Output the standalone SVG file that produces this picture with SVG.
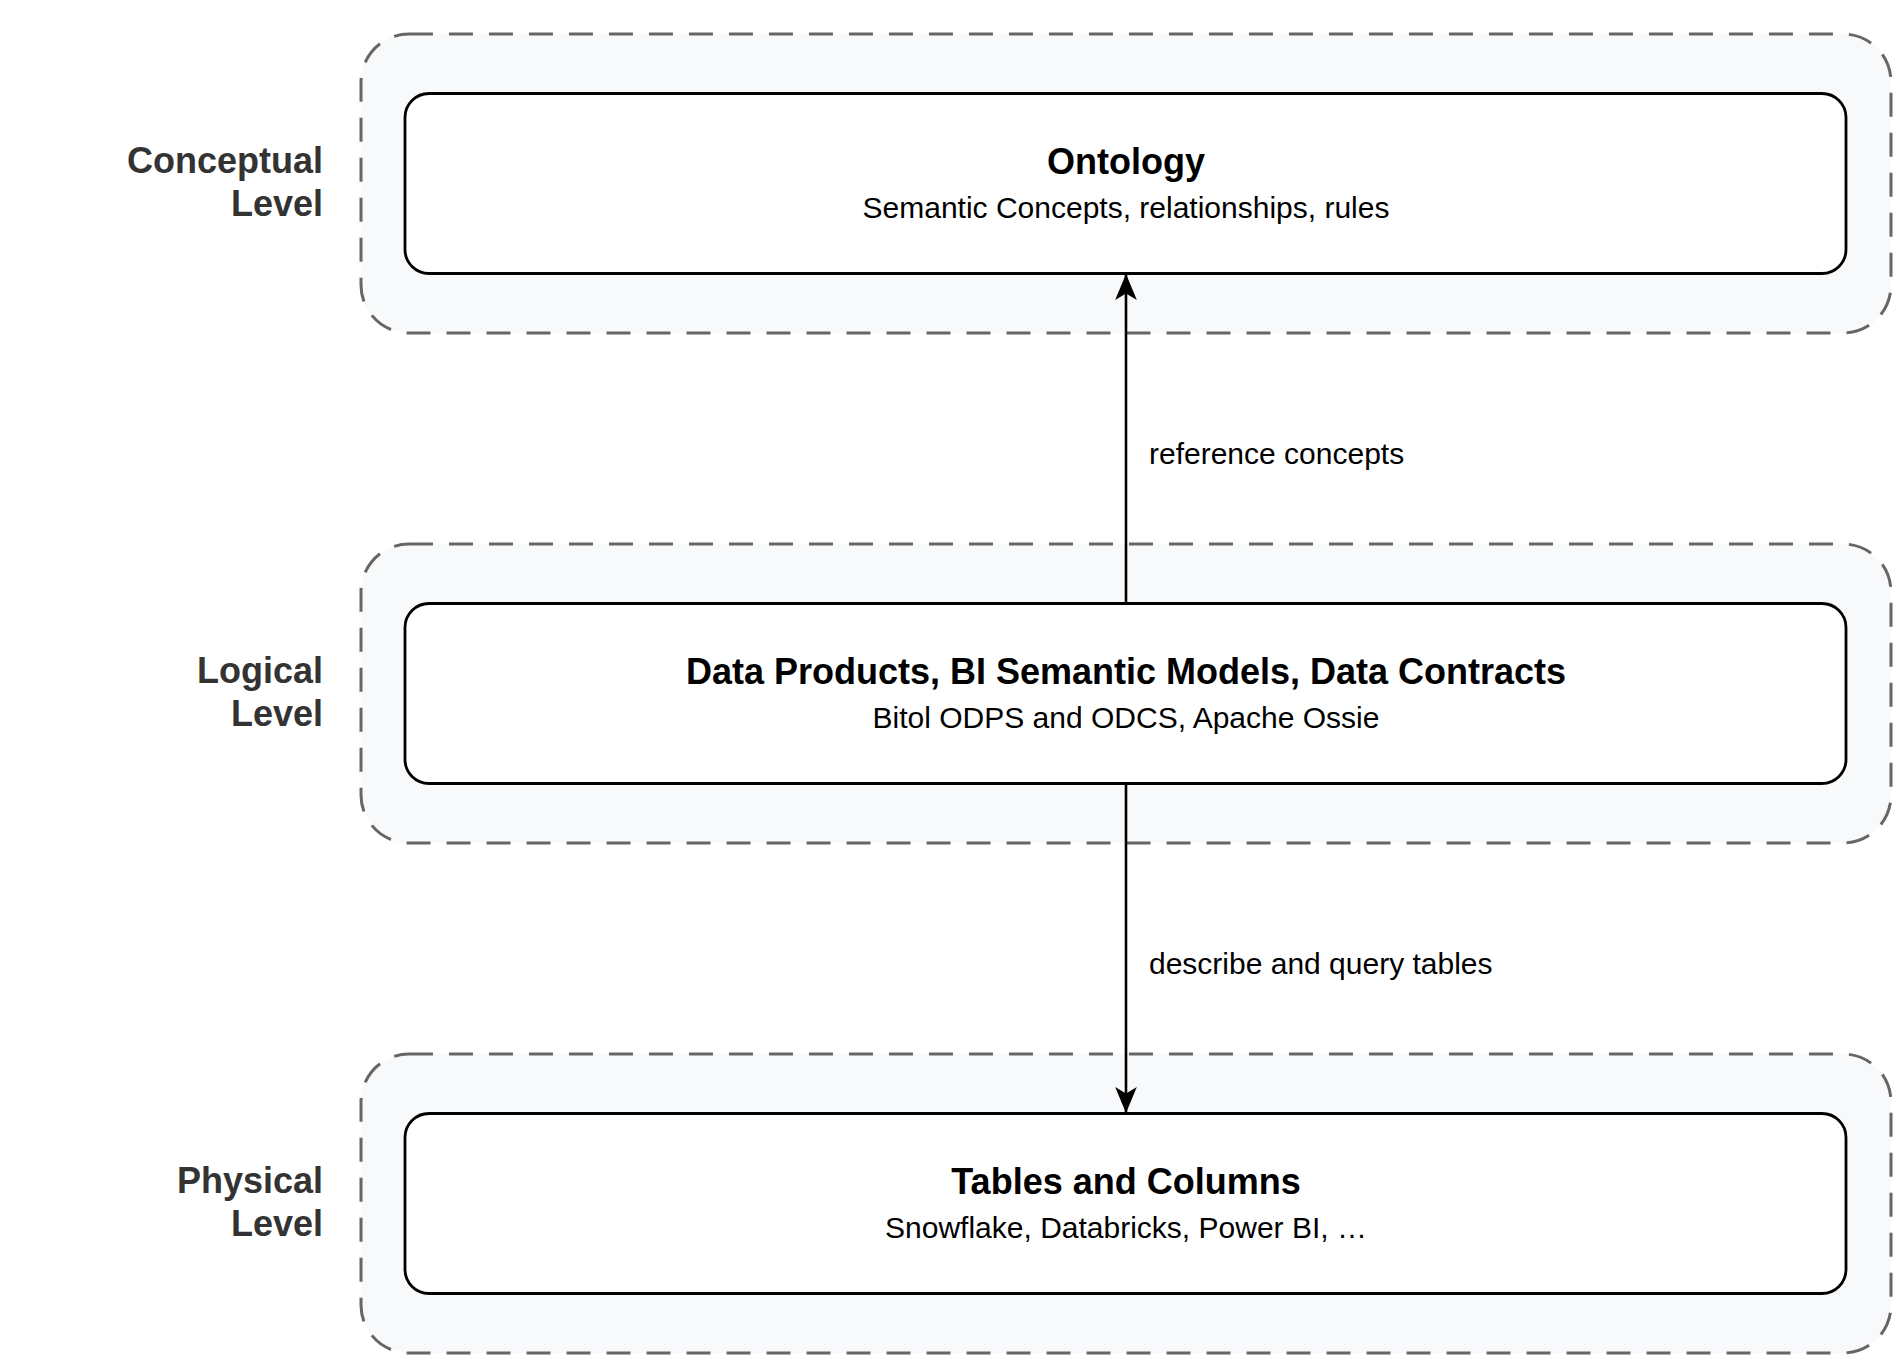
<svg xmlns="http://www.w3.org/2000/svg" width="1904" height="1367" viewBox="0 0 1904 1367">
<style>
.outer{fill:#f8f9fb;stroke:#666;stroke-width:3;stroke-dasharray:24 16}
.inner{fill:#fff;stroke:#000;stroke-width:2.8}
.t{font-family:"Liberation Sans",Arial,sans-serif;font-weight:bold;font-size:36px;text-anchor:middle;fill:#000}
.s{font-family:"Liberation Sans",Arial,sans-serif;font-size:30px;text-anchor:middle;fill:#000}
.lv{font-family:"Liberation Sans",Arial,sans-serif;font-weight:bold;font-size:36px;text-anchor:end;fill:#333}
.el{font-family:"Liberation Sans",Arial,sans-serif;font-size:30px;fill:#000}
.ln{stroke:#000;stroke-width:2.6;fill:none}
</style>
<defs><marker id="a" viewBox="0 0 24 24" refX="23" refY="12" markerWidth="26" markerHeight="26" markerUnits="userSpaceOnUse" orient="auto"><path d="M0,2 L24,12 L0,22 L6,12 z" fill="#000"/></marker></defs>
<g id="conceptual">
<rect class="outer" x="361" y="34" width="1530" height="299" rx="48"/>
<text class="lv" x="323" y="173">Conceptual</text><text class="lv" x="323" y="216">Level</text>
<rect class="inner" x="405" y="93.5" width="1441" height="180" rx="24"/>
<text class="t" x="1126" y="174">Ontology</text>
<text class="s" x="1126" y="218">Semantic Concepts, relationships, rules</text>
</g>
<g id="logical">
<rect class="outer" x="361" y="544" width="1530" height="299" rx="48"/>
<text class="lv" x="323" y="683">Logical</text><text class="lv" x="323" y="726">Level</text>
<rect class="inner" x="405" y="603.5" width="1441" height="180" rx="24"/>
<text class="t" x="1126" y="684">Data Products, BI Semantic Models, Data Contracts</text>
<text class="s" x="1126" y="728">Bitol ODPS and ODCS, Apache Ossie</text>
</g>
<g id="physical">
<rect class="outer" x="361" y="1054" width="1530" height="299" rx="48"/>
<text class="lv" x="323" y="1193">Physical</text><text class="lv" x="323" y="1236">Level</text>
<rect class="inner" x="405" y="1113.5" width="1441" height="180" rx="24"/>
<text class="t" x="1126" y="1194">Tables and Columns</text>
<text class="s" x="1126" y="1238">Snowflake, Databricks, Power BI, …</text>
</g>
<g id="connectors">
<line class="ln" x1="1126" y1="603.5" x2="1126" y2="275" marker-end="url(#a)"/>
<text class="el" x="1149" y="464">reference concepts</text>
<line class="ln" x1="1126" y1="783.5" x2="1126" y2="1112" marker-end="url(#a)"/>
<text class="el" x="1149" y="974">describe and query tables</text>
</g>
</svg>
